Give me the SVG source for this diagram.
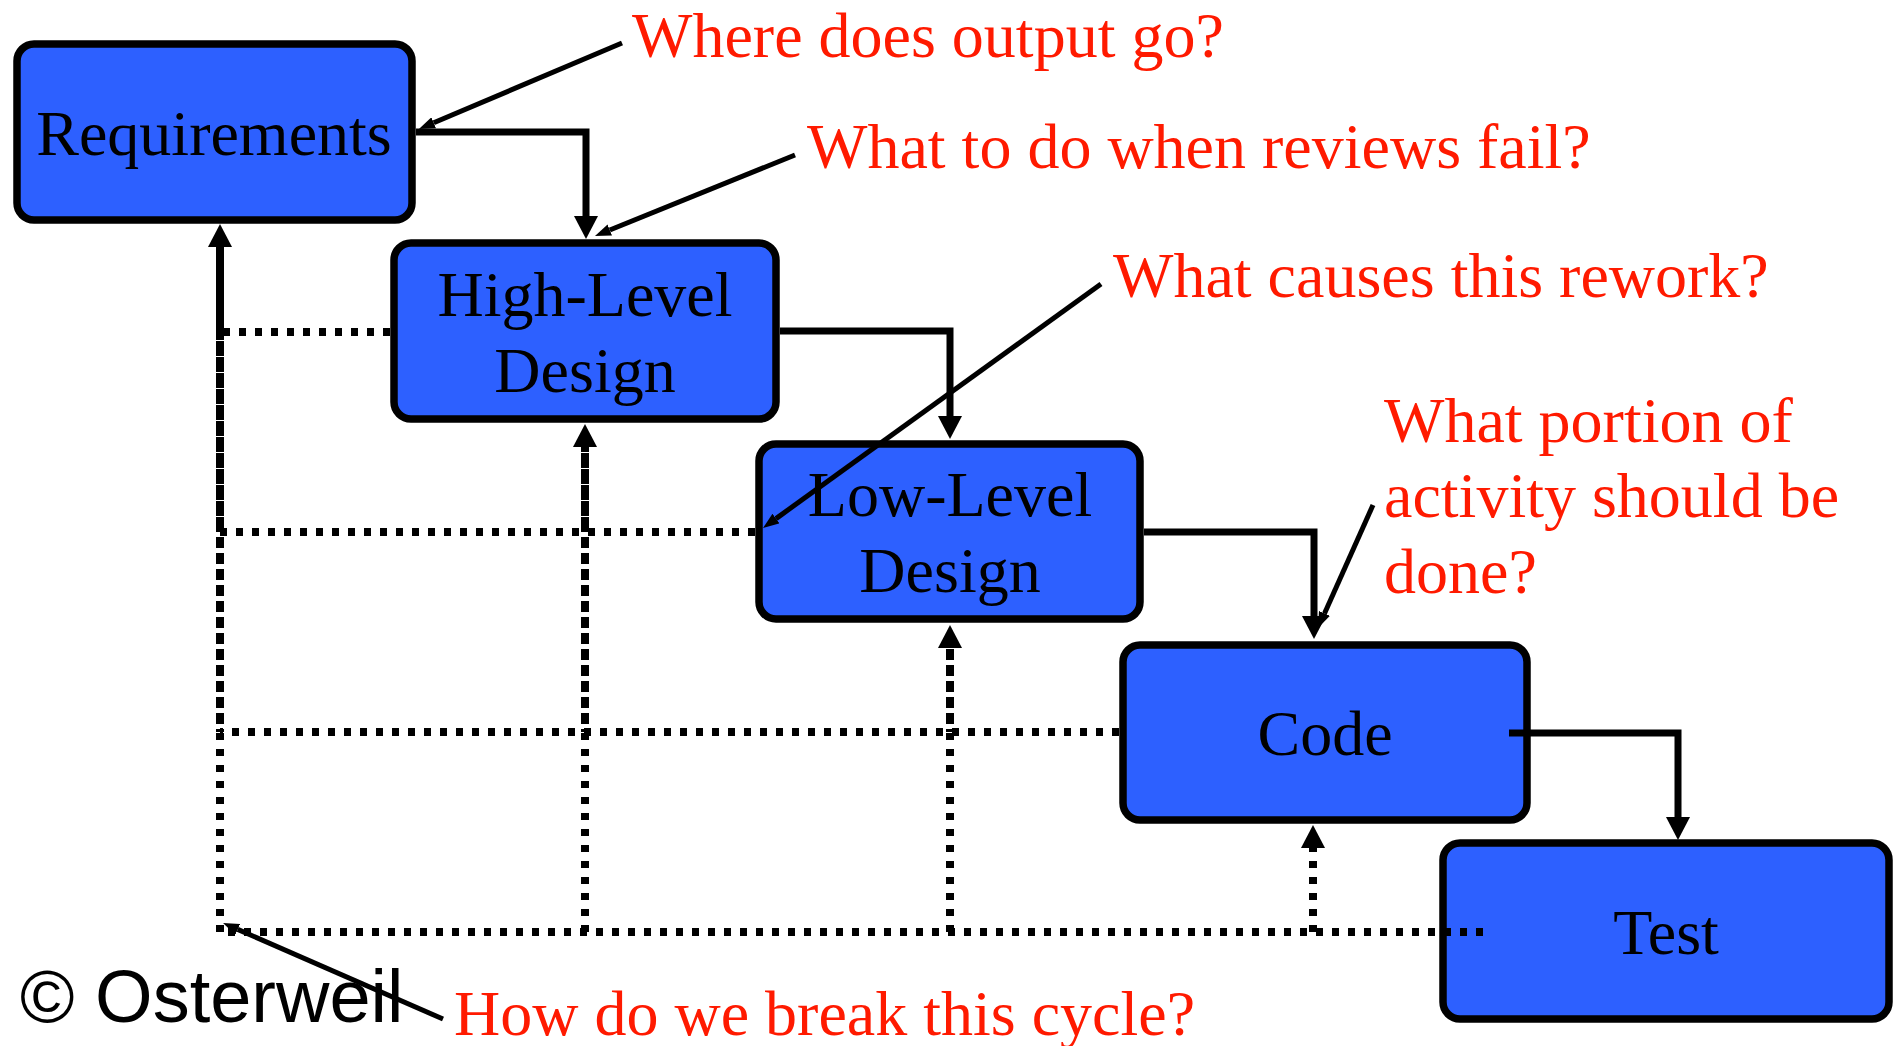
<svg xmlns="http://www.w3.org/2000/svg" width="1895" height="1046" viewBox="0 0 1895 1046">
  <style>
    .box { fill: #2d60ff; stroke: #000; stroke-width: 7.5; }
    .label { font-family: "Liberation Serif", "Times New Roman", serif; font-size: 64px; fill: #000; text-anchor: middle; }
    .note { font-family: "Liberation Serif", "Times New Roman", serif; font-size: 64px; fill: #ff1a00; }
    .flow { fill: none; stroke: #000; stroke-width: 7; stroke-linejoin: miter; stroke-linecap: butt; }
    .back { fill: none; stroke: #000; stroke-width: 8; stroke-dasharray: 7 9; stroke-linecap: butt; }
    .pointer { fill: none; stroke: #000; stroke-width: 5; }
    .credit { font-family: "Liberation Sans", Arial, sans-serif; font-size: 74px; fill: #000; }
  </style>
  <defs>
    <marker id="head" markerUnits="userSpaceOnUse" markerWidth="24" markerHeight="24" refX="0" refY="12" orient="auto">
      <path d="M0,0 L23,12 L0,24 Z" fill="#000"/>
    </marker>
    <marker id="tip" markerUnits="userSpaceOnUse" markerWidth="17" markerHeight="12" refX="0" refY="6" orient="auto">
      <path d="M0,0 L16,6 L0,12 Z" fill="#000"/>
    </marker>
  </defs>

  <rect width="1895" height="1046" fill="#fff"/>

  <!-- phases -->
  <g id="requirements">
    <rect class="box" x="17" y="44" width="395" height="176" rx="17"/>
    <text class="label" x="214" y="155">Requirements</text>
  </g>
  <g id="high-level-design">
    <rect class="box" x="394" y="243" width="382" height="176" rx="17"/>
    <text class="label" x="585" y="316">High-Level</text>
    <text class="label" x="585" y="392">Design</text>
  </g>
  <g id="low-level-design">
    <rect class="box" x="759" y="444" width="381" height="175" rx="17"/>
    <text class="label" x="950" y="516">Low-Level</text>
    <text class="label" x="950" y="592">Design</text>
  </g>
  <g id="code">
    <rect class="box" x="1123" y="645" width="404" height="175" rx="17"/>
    <text class="label" x="1325" y="755">Code</text>
  </g>
  <g id="test">
    <rect class="box" x="1443" y="843" width="446" height="176" rx="17"/>
    <text class="label" x="1666" y="954">Test</text>
  </g>

  <g id="connectors">
    <!-- forward flow -->
    <path class="flow" d="M416,132 H586 V216" marker-end="url(#head)"/>
    <path class="flow" d="M780,331 H950 V416" marker-end="url(#head)"/>
    <path class="flow" d="M1144,532 H1314 V616" marker-end="url(#head)"/>
    <path class="flow" d="M1509,733 H1678 V817" marker-end="url(#head)"/>

    <!-- rework from Test -->
    <g id="rework-test">
      <line class="back" x1="1483" y1="932" x2="220" y2="932"/>
      <line class="back" x1="1313" y1="932" x2="1313" y2="848" marker-end="url(#head)"/>
      <line class="back" x1="950" y1="932" x2="950" y2="648" marker-end="url(#head)"/>
      <line class="back" x1="585" y1="932" x2="585" y2="447" marker-end="url(#head)"/>
      <line class="back" x1="220" y1="932" x2="220" y2="247" marker-end="url(#head)"/>
    </g>
    <!-- rework from Code -->
    <g id="rework-code">
      <line class="back" x1="1119" y1="732" x2="220" y2="732"/>
      <line class="back" x1="950" y1="732" x2="950" y2="648" stroke-dashoffset="4"/>
      <line class="back" x1="585" y1="732" x2="585" y2="447" stroke-dashoffset="4"/>
      <line class="back" x1="220" y1="732" x2="220" y2="247" stroke-dashoffset="4"/>
    </g>
    <!-- rework from Low-Level Design -->
    <g id="rework-lld">
      <line class="back" x1="755" y1="532" x2="220" y2="532"/>
      <line class="back" x1="585" y1="532" x2="585" y2="447" stroke-dashoffset="8"/>
      <line class="back" x1="220" y1="532" x2="220" y2="247" stroke-dashoffset="8"/>
    </g>
    <!-- rework from High-Level Design -->
    <g id="rework-hld">
      <line class="back" x1="390" y1="332" x2="220" y2="332"/>
      <line class="back" x1="220" y1="332" x2="220" y2="247" stroke-dashoffset="12"/>
    </g>

    <!-- question pointers -->
    <line class="pointer" x1="622" y1="43" x2="433.7" y2="122.8" marker-end="url(#tip)"/>
    <line class="pointer" x1="795" y1="155" x2="609.8" y2="230" marker-end="url(#tip)"/>
    <line class="pointer" x1="1101" y1="284" x2="776" y2="518.6" marker-end="url(#tip)"/>
    <line class="pointer" x1="1373" y1="505" x2="1324.5" y2="613.4" marker-end="url(#tip)"/>
    <line class="pointer" x1="443" y1="1019" x2="237.7" y2="929.4" marker-end="url(#tip)"/>
  </g>

  <!-- questions -->
  <text class="note" x="632" y="57">Where does output go?</text>
  <text class="note" x="807" y="168">What to do when reviews fail?</text>
  <text class="note" x="1113" y="297">What causes this rework?</text>
  <text class="note" x="1384" y="442">What portion of</text>
  <text class="note" x="1384" y="517">activity should be</text>
  <text class="note" x="1384" y="593">done?</text>
  <text class="note" x="454" y="1035">How do we break this cycle?</text>

  <text class="credit" x="20" y="1022">© Osterweil</text>
</svg>
